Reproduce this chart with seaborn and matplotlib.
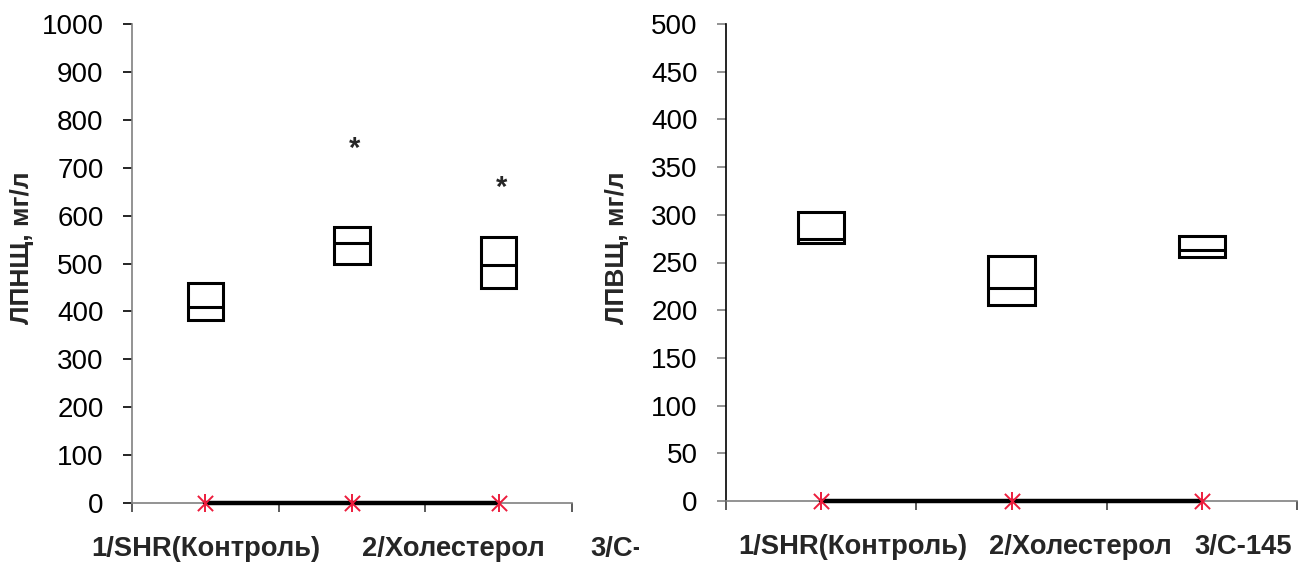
import numpy as np
import matplotlib
matplotlib.use("Agg")
import matplotlib.pyplot as plt
import seaborn as sns
from matplotlib.transforms import Bbox, TransformedBbox

# Groups and box summaries (lower quartile, median, upper quartile), mg/l
groups = ["1/SHR(Контроль)", "2/Холестерол", "3/С-145"]

ldl_q1 = [382, 500, 449]
ldl_med = [409, 543, 497]
ldl_q3 = [460, 576, 555]

hdl_q1 = [270, 205, 256]
hdl_med = [275, 223, 263]
hdl_q3 = [303, 257, 278]

# zero series drawn along the category axis
baseline = [0, 0, 0]

sns.set_theme(style="white")
plt.rcParams["font.family"] = ["Liberation Sans", "DejaVu Sans"]

RED = "#ED1C3C"
W, H = 1311, 567

fig = plt.figure(figsize=(W / 100, H / 100), dpi=100)
fig.patch.set_facecolor("white")
ax1 = fig.add_axes([132 / W, 1 - 503 / H, 440 / W, 479 / H])
ax2 = fig.add_axes([726 / W, 1 - 501 / H, 571 / W, 477 / H])


def draw_panel(ax, q1, med, q3, ymax, ystep, ylabel, axis_col, ytick_col, label_x, ylabel_x):
    pos = np.arange(len(groups))
    stats = [dict(med=m, q1=a, q3=b, whislo=a, whishi=b, fliers=[])
             for a, m, b in zip(q1, med, q3)]
    ax.bxp(stats, positions=pos, widths=0.243, showcaps=False, patch_artist=True,
           boxprops=dict(facecolor="white", edgecolor="black", linewidth=2.2),
           medianprops=dict(color="black", linewidth=2.2, solid_capstyle="butt"),
           whiskerprops=dict(linewidth=0), manage_ticks=False, zorder=3)

    sns.lineplot(x=pos, y=baseline, ax=ax, color="black", linewidth=3.2,
                 zorder=4, clip_on=False)
    sns.scatterplot(x=pos, y=baseline, ax=ax, marker="x", s=120, color=RED,
                    linewidth=1.4, zorder=5, clip_on=False)
    sns.scatterplot(x=pos, y=baseline, ax=ax, marker="|", s=150, color=RED,
                    linewidth=1.4, zorder=5, clip_on=False)

    ax.set_xlim(-0.5, len(groups) - 0.5)
    ax.set_ylim(0, ymax)
    ax.set_yticks(np.arange(0, ymax + 1, ystep))
    ax.set_xticks(np.arange(-0.5, len(groups), 1.0))
    ax.set_xticklabels([])
    ax.set_xlabel("")
    ax.set_ylabel("")

    for s in ("top", "right"):
        ax.spines[s].set_visible(False)
    ax.spines["left"].set_color(axis_col)
    ax.spines["left"].set_linewidth(1.2)
    ax.spines["bottom"].set_color("#808080")
    ax.spines["bottom"].set_linewidth(1.2)

    ax.tick_params(axis="y", direction="out", length=6.5, width=1.2,
                   color=ytick_col, pad=14, labelsize=20, labelcolor="black", left=True)
    ax.tick_params(axis="x", direction="out", length=6.5, width=1.2,
                   color="#404040", bottom=True)

    ax.text(ylabel_x, 0.532, ylabel, transform=ax.transAxes, rotation=90,
            ha="center", va="center", fontsize=19, fontweight="bold")

    texts = []
    for name, lx in zip(groups, label_x):
        t = ax.text(lx, -0.096, name, transform=ax.transAxes, ha="left",
                    va="center", fontsize=19.7, fontweight="bold", clip_on=False)
        texts.append(t)
    return texts


t1 = draw_panel(ax1, ldl_q1, ldl_med, ldl_q3, 1000, 100, "ЛПНЩ, мг/л",
                "#808080", "black", [-0.093, 0.523, 1.042], -0.25)
draw_panel(ax2, hdl_q1, hdl_med, hdl_q3, 500, 50, "ЛПВЩ, мг/л",
           "black", "#808080", [0.021, 0.461, 0.82], -0.191)

# the third group name of the left panel runs into the gap and is cut off there
clip = TransformedBbox(Bbox([[0, 0], [639 / W, 1]]), fig.transFigure)
t1[2].set_clip_on(True)
t1[2].set_clip_box(clip)

# significance marks above groups 2 and 3 of the left panel
for gx, gy in [(1, 746), (2, 663)]:
    ax1.text(gx + 0.02, gy, "*", ha="center", va="center_baseline",
             fontsize=21, fontweight="bold")

fig.savefig("out.png", dpi=100, facecolor="white")
